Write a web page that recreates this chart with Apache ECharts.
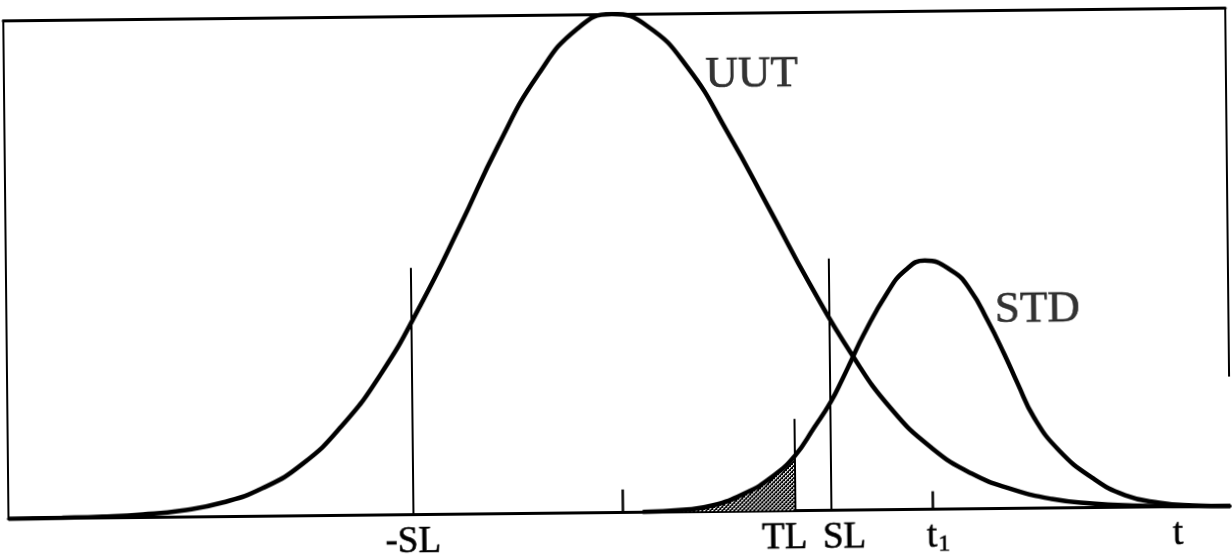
<!DOCTYPE html>
<html>
<head>
<meta charset="utf-8">
<script src="https://cdn.jsdelivr.net/npm/echarts@6/dist/echarts.min.js"></script>
<style>
html, body { margin: 0; padding: 0; background: #fff; }
/* the scan is slightly tilted */
#main { width: 1232px; height: 556px; transform: rotate(-0.6deg); }
</style>
</head>
<body>
<div id="main"></div>
<script>
// curves: [t, height]
var uutCurve = [
	[0, 0], [4.4, 0.1], [7.7, 0.25], [11.0, 0.6], [14.2, 1.3], [17.5, 2.8],
	[20.8, 5.6], [24.1, 10.4], [27.3, 17.8], [30.6, 28.3], [33.9, 42.0],
	[37.2, 57.8], [40.4, 73.9], [43.7, 87.9], [47.0, 97.2], [49.8, 100],
	[52.7, 97.5], [56.0, 89.0], [59.2, 75.9], [62.5, 60.7], [65.8, 45.3],
	[69.1, 31.4], [72.3, 20.3], [75.6, 12.3], [78.9, 7.0], [82.2, 3.8],
	[85.4, 1.8], [88.7, 0.8], [92.0, 0.3], [95.3, 0.1], [100, 0]
];
var stdCurve = [
	[51.9, 0.05], [55.2, 0.4], [57.6, 1.2], [60.3, 3.6], [62.5, 6.8],
	[64.4, 11.0], [66.0, 16.6], [67.4, 21.8], [68.4, 26.5], [69.1, 30.0],
	[70.1, 35.0], [72.1, 43.5], [73.6, 48.0], [75.2, 49.9], [77.5, 47.6],
	[78.9, 43.9], [80.3, 37.7], [81.6, 31.1], [82.7, 25.0], [84.0, 18.2],
	[86.0, 11.6], [88.7, 6.0], [91.4, 2.4], [94.2, 0.8], [96.9, 0.2], [100, 0]
];

// vertical lines -SL, TL, SL
var limitPos = [33.1, 64.4, 67.3];
var limitTop = [49.5, 18.4, 50.5];
var tlHeight = 11.0; // STD height where it meets TL
// small ticks on the t axis
var tickPos = [50.3, 75.6];
var tickTop = [4.6, 3.6];
// labels under the axis
var axisNames = ['-SL', 'TL', 'SL', 't1', 't'];
var axisNamePos = [33.1, 63.5, 68.4, 76.1, 95.7];
// curve names
var curveNames = ['UUT', 'STD'];
var curveNamePos = [[57.4, 87.5], [80.9, 39.7]];
// right side of the frame
var frameRight = [100, 26, 100];

var serif = '"Liberation Serif", "Times New Roman", serif';

function hatchPattern() {
	var c = document.createElement('canvas');
	c.width = 4; c.height = 4;
	var g = c.getContext('2d');
	g.fillStyle = '#fff';
	g.fillRect(0, 0, 4, 4);
	g.fillStyle = '#000';
	for (var i = 0; i < 4; i++) {
		g.fillRect(i, i, 1, 1);
		g.fillRect(3 - i, i, 1, 1);
	}
	g.fillRect(0, 2, 1, 1);
	g.fillRect(2, 0, 1, 1);
	return c;
}

function buildChart() {
	var chart = echarts.init(document.getElementById('main'));

	// part of STD left of TL, filled
	var shade = stdCurve.filter(function (p) { return p[0] < limitPos[1]; });
	shade.push([limitPos[1], tlHeight]);

	var lines = [];
	for (var i = 0; i < limitPos.length; i++) {
		lines.push([{ coord: [limitPos[i], 0] }, { coord: [limitPos[i], limitTop[i]] }]);
	}
	for (var j = 0; j < tickPos.length; j++) {
		lines.push([{ coord: [tickPos[j], 0], lineStyle: { width: 2.5 } }, { coord: [tickPos[j], tickTop[j]] }]);
	}
	lines.push([{ coord: [frameRight[0], frameRight[1]] }, { coord: [frameRight[0], frameRight[2]] }]);

	var option = {
		animation: false,
		backgroundColor: '#fff',
		grid: { left: 6, right: 4, top: 14, bottom: 43.5, outerBoundsMode: 'none', containLabel: false },
		xAxis: [{
			type: 'value', min: 0, max: 100,
			axisLine: { show: true, lineStyle: { color: '#000', width: 3 } },
			axisTick: { show: false },
			splitLine: { show: false },
			axisLabel: {
				customValues: axisNamePos,
				margin: 9,
				color: '#000',
				fontFamily: serif,
				fontSize: 37,
				textBorderColor: '#000',
				textBorderWidth: 0.6,
				formatter: function (v) {
					var n = axisNames[axisNamePos.indexOf(v)];
					if (n === 't1') return '{t|t}{s|1}';
					return n;
				},
				rich: {
					t: { fontFamily: serif, fontSize: 37, color: '#000', verticalAlign: 'top', lineHeight: 37 },
					s: { fontFamily: serif, fontSize: 24, color: '#000', verticalAlign: 'top', lineHeight: 24, padding: [14, 0, 0, 1] }
				}
			}
		}, {
			type: 'value', min: 0, max: 100, position: 'top',
			axisLine: { show: true, onZero: false, lineStyle: { color: '#000', width: 3 } },
			axisTick: { show: false }, axisLabel: { show: false }, splitLine: { show: false }
		}],
		yAxis: {
			type: 'value', min: 0, max: 100,
			axisLine: { show: true, lineStyle: { color: '#000', width: 2 } },
			axisTick: { show: false }, axisLabel: { show: false }, splitLine: { show: false }
		},
		series: [
			{
				name: 'shade', type: 'line', data: shade, smooth: 0.5,
				symbol: 'none', lineStyle: { width: 0 },
				areaStyle: { color: { image: hatchPattern(), repeat: 'repeat' }, opacity: 1 },
				z: 1
			},
			{
				name: 'UUT', type: 'line', data: uutCurve, smooth: 0.5,
				symbol: 'none', lineStyle: { color: '#000', width: 4.5 },
				markLine: {
					silent: true, symbol: ['none', 'none'], animation: false,
					label: { show: false },
					lineStyle: { color: '#000', width: 2, type: 'solid' },
					data: lines
				},
				z: 3
			},
			{
				name: 'STD', type: 'line', data: stdCurve, smooth: 0.5,
				symbol: 'none', lineStyle: { color: '#000', width: 4.5 }, z: 3
			},
			{
				name: 'names', type: 'scatter', symbolSize: 0, silent: true,
				data: curveNamePos.map(function (p, k) { return { name: curveNames[k], value: p }; }),
				label: {
					show: true, position: 'right', distance: 0,
					formatter: '{b}', color: '#000', fontFamily: serif, fontSize: 45,
					textBorderColor: '#000', textBorderWidth: 0.6
				},
				z: 4
			}
		]
	};

	chart.setOption(option);
}

buildChart();
</script>
</body>
</html>
